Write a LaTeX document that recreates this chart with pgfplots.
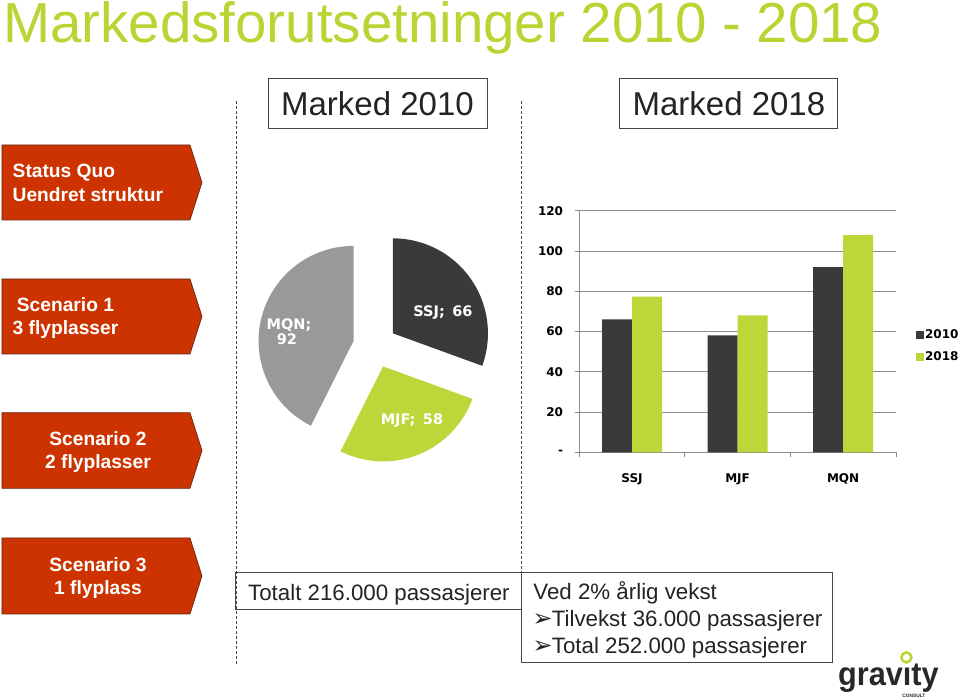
\documentclass[border=0pt]{standalone}
\usepackage{pgfplots}
\pgfplotsset{compat=1.18}
\usepackage{fontspec}
\setmainfont{Liberation Sans}
\newfontfamily\dv{DejaVu Sans}
\definecolor{titlegreen}{RGB}{187,211,51}
\definecolor{bargreen}{RGB}{189,214,57}
\definecolor{bardark}{RGB}{58,58,58}
\definecolor{piegray}{RGB}{153,153,153}
\definecolor{piedark}{RGB}{58,58,58}
\definecolor{arrowred}{RGB}{204,51,0}
\definecolor{arrowedge}{RGB}{95,40,20}
\definecolor{gridgray}{RGB}{140,140,140}
\definecolor{boxgray}{RGB}{70,70,70}
\definecolor{textdark}{RGB}{35,35,35}
\definecolor{logodark}{RGB}{40,40,40}
\begin{document}
\begin{tikzpicture}
% pie data
\def\vSSJ{66}\def\vMJF{58}\def\vMQN{92}
\pgfmathsetmacro\tot{\vSSJ+\vMJF+\vMQN}
\pgfmathsetmacro\aA{90}
\pgfmathsetmacro\aB{90-\vSSJ/\tot*360}
\pgfmathsetmacro\aC{\aB-\vMJF/\tot*360}
\pgfmathsetmacro\aD{\aC-\vMQN/\tot*360}
\pgfmathsetmacro\mA{(\aA+\aB)/2}
\pgfmathsetmacro\mB{(\aB+\aC)/2}
\pgfmathsetmacro\mC{(\aC+\aD)/2}
\def\pr{95}\def\pd{22}
\begin{scope}[x=1pt,y=-1pt]
\useasboundingbox (0,0) rectangle (960,700);
% title
\node[anchor=base west, inner sep=0, text=titlegreen, font=\fontsize{56.5}{60}\selectfont] at (3,42.7) {Markedsforutsetninger 2010 - 2018};
% header boxes
\draw[boxgray, line width=0.9pt] (268,78) rectangle (487,128);
\node[anchor=base, inner sep=0, text=textdark, font=\fontsize{33}{36}\selectfont] at (377.5,116) {Marked 2010};
\draw[boxgray, line width=0.9pt] (620,78) rectangle (838,128);
\node[anchor=base, inner sep=0, text=textdark, font=\fontsize{33}{36}\selectfont] at (729,116) {Marked 2018};
% dashed separators
\draw[boxgray, dash pattern=on 3pt off 2pt, line width=0.8pt] (236,101) -- (236,664);
\draw[boxgray, dash pattern=on 3pt off 2pt, line width=0.8pt] (521,101) -- (521,572);
% arrow shapes
\foreach \yt/\yb in {145/220, 279/354, 412.7/488.3, 538/614}{
  \draw[fill=arrowred, draw=arrowedge, line width=0.7pt] (2,\yt) -- (190,\yt) -- (202,{(\yt+\yb)/2}) -- (190,\yb) -- (2,\yb) -- cycle;
}
\tikzset{arrtxt/.style={anchor=base, inner sep=0, text=white, font=\bfseries\fontsize{19.2}{22}\selectfont}}
\node[arrtxt, anchor=base west] at (12.5,177.7) {Status Quo};
\node[arrtxt, anchor=base west] at (12.5,201.2) {Uendret struktur};
\node[arrtxt] at (65.5,311.7) {Scenario 1};
\node[arrtxt] at (65.5,334.3) {3 flyplasser};
\node[arrtxt] at (98,445.7) {Scenario 2};
\node[arrtxt] at (98,468.3) {2 flyplasser};
\node[arrtxt] at (98,571.7) {Scenario 3};
\node[arrtxt] at (98,595) {1 flyplass};
% bottom boxes
\tikzset{boxtxt/.style={anchor=base west, inner sep=0, text=textdark, font=\fontsize{22.3}{26}\selectfont}}
\draw[boxgray, line width=0.9pt] (235.5,572.3) rectangle (521,609.3);
\node[boxtxt] at (248,600.7) {Totalt 216.000 passasjerer};
\draw[boxgray, fill=white, line width=0.9pt] (521,572.3) rectangle (832.3,662.3);
\node[boxtxt] at (533.3,599.3) {Ved 2\% årlig vekst};
\node[boxtxt, font=\dv\fontsize{24}{26}\selectfont] at (532.5,627) {➢};
\node[boxtxt] at (551.7,626.7) {Tilvekst 36.000 passasjerer};
\node[boxtxt, font=\dv\fontsize{24}{26}\selectfont] at (532.5,653.6) {➢};
\node[boxtxt] at (551.7,653.3) {Total 252.000 passasjerer};
% logo
\node[anchor=base west, inner sep=0, text=logodark, font=\bfseries\fontsize{33}{34}\selectfont] at (838,686) {\scalebox{0.93}[1]{gravıty}};
\draw[titlegreen, line width=2.5pt] (906.5,657.5) circle (5);
\node[anchor=base, inner sep=0, text=logodark, font=\bfseries\fontsize{4.8}{5}\selectfont] at (914,697.5) {CONSULT};
\end{scope}

% pie chart
\begin{axis}[at={(375pt,-346pt)}, anchor=center, x=1pt, y=1pt,
  xmin=-130, xmax=130, ymin=-130, ymax=130, hide axis, clip=false]
  \fill[piedark] (axis cs:0,0) ++(\mA:\pd pt) -- ++(\aA:\pr pt) arc[start angle=\aA, end angle=\aB, radius=\pr pt] -- cycle;
  \fill[bargreen] (axis cs:0,0) ++(\mB:\pd pt) -- ++(\aB:\pr pt) arc[start angle=\aB, end angle=\aC, radius=\pr pt] -- cycle;
  \fill[piegray] (axis cs:0,0) ++(\mC:\pd pt) -- ++(\aC:\pr pt) arc[start angle=\aC, end angle=\aD, radius=\pr pt] -- cycle;
  \node[anchor=base, inner sep=0, text=white, font=\dv\bfseries\fontsize{14.5}{16}\selectfont] at (axis cs:68,29.3) {SSJ;\, 66};
  \node[anchor=base, inner sep=0, text=white, font=\dv\bfseries\fontsize{14.5}{16}\selectfont] at (axis cs:-86,16) {MQN;};
  \node[anchor=base, inner sep=0, text=white, font=\dv\bfseries\fontsize{14.5}{16}\selectfont] at (axis cs:-88,1) {92};
  \node[anchor=base, inner sep=0, text=white, font=\dv\bfseries\fontsize{14.5}{16}\selectfont] at (axis cs:37,-79) {MJF;\, 58};
\end{axis}

% bar chart
\begin{axis}[at={(579.3pt,-452.3pt)}, anchor=south west, scale only axis,
  width=316.7pt, height=241.6pt,
  ymin=0, ymax=120, xmin=-0.5, xmax=2.5,
  ybar=0pt, bar width=30pt,
  axis x line*=bottom, axis y line*=left,
  axis line style={-, draw=gridgray, line width=0.8pt},
  ytick={0,20,40,60,80,100,120}, yticklabels={-,20,40,60,80,100,120},
  ymajorgrids, grid style={draw=gridgray, line width=0.8pt},
  xtick={0,1,2}, xticklabels={SSJ,MJF,MQN},
  minor xtick={-0.5,0.5,1.5,2.5},
  tick align=outside, major tick length=4pt, minor tick length=5pt,
  major x tick style={draw=none},
  tick style={draw=gridgray, line width=0.8pt},
  tick label style={font=\dv\bfseries\fontsize{12}{13}\selectfont, text=black},
  yticklabel style={anchor=east, inner sep=0pt, xshift=-12pt},
  xticklabel style={anchor=base, inner sep=0pt, yshift=-26.5pt},
  legend style={at={(axis description cs:1,0.44)}, anchor=west, xshift=20pt,
    draw=none, fill=none, inner sep=0pt, row sep=9pt,
    font=\dv\bfseries\fontsize{12}{13}\selectfont,
    nodes={inner sep=1.5pt}},
  legend cell align=left,
]
\addplot[fill=bardark, draw=none, legend image code/.code={\fill[bardark] (0pt,-3.75pt) rectangle (7.5pt,3.75pt);}] coordinates {(0,66) (1,58) (2,92)};
\addplot[fill=bargreen, draw=none, legend image code/.code={\fill[bargreen] (0pt,-3.75pt) rectangle (7.5pt,3.75pt);}] coordinates {(0,77.3) (1,68) (2,107.8)};
\legend{2010,2018}
\end{axis}
\end{tikzpicture}
\end{document}
